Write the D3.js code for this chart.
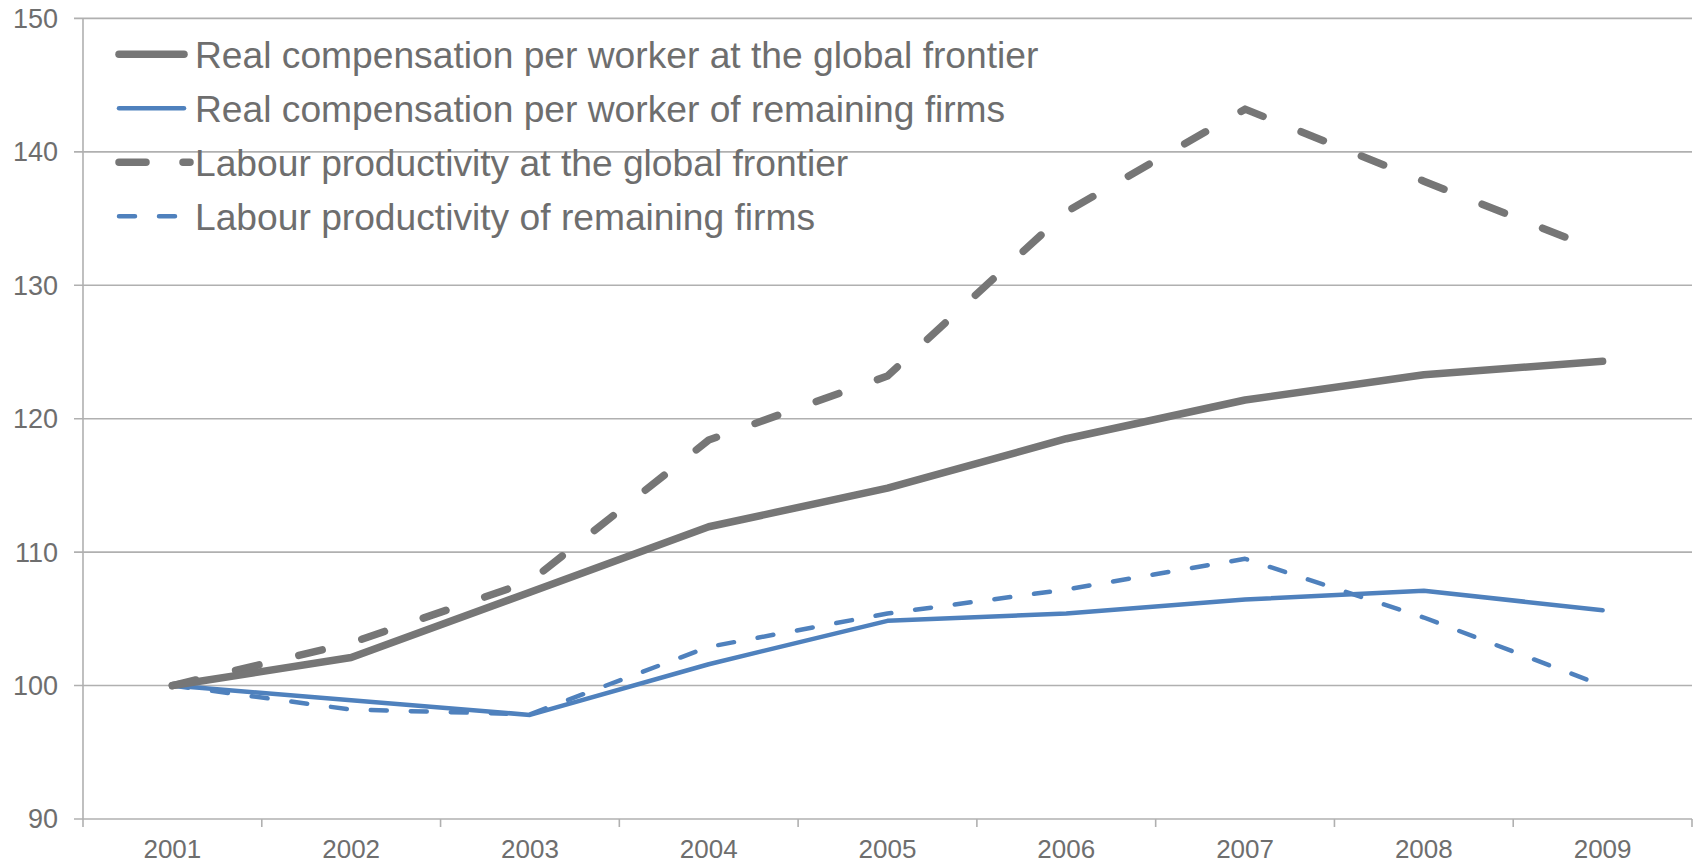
<!DOCTYPE html>
<html>
<head>
<meta charset="utf-8">
<script src="https://cdn.jsdelivr.net/npm/d3@7"></script>
<style>
  body { margin: 0; background: #fff; }
  text { font-family: "Liberation Sans", Arial, sans-serif; fill: #6e6e6e; }
</style>
</head>
<body>
<div id="container"></div>
<script>
const width = 1694,
      height = 864,
      margin = { top: 18.4, right: 2, bottom: 45, left: 83 };

// data (index, 2001 = 100)
const years = ["2001", "2002", "2003", "2004", "2005", "2006", "2007", "2008", "2009"];
const compFrontier = [100, 102.1, 107.0, 111.9, 114.8, 118.5, 121.4, 123.3, 124.3];
const compOthers   = [100, 98.9, 97.8, 101.6, 104.85, 105.4, 106.45, 107.1, 105.65];
const prodFrontier = [100, 103.2, 107.8, 118.4, 123.2, 135.5, 143.2, 137.8, 132.5];
const prodOthers   = [100, 98.2, 97.85, 102.9, 105.4, 107.2, 109.5, 105.1, 100.0];
const yTicks = [90, 100, 110, 120, 130, 140, 150];

const seriesNames = [
    "Real compensation per worker at the global frontier",
    "Real compensation per worker of remaining firms",
    "Labour productivity at the global frontier",
    "Labour productivity of remaining firms"
];

const grey = "#767676", blue = "#4f81bd";

const series = [
    { name: seriesNames[0], values: compFrontier, color: grey, w: 7.5, dash: null },
    { name: seriesNames[1], values: compOthers,   color: blue, w: 4.5, dash: null },
    { name: seriesNames[2], values: prodFrontier, color: grey, w: 7.5, dash: "24,41" },
    { name: seriesNames[3], values: prodOthers,   color: blue, w: 4.5, dash: "16,24" }
];

var svg = d3.select("#container").append("svg")
    .attr("width", width)
    .attr("height", height);

var x = d3.scaleBand()
    .domain(years)
    .range([margin.left, width - margin.right]);

var y = d3.scaleLinear()
    .domain([90, 150])
    .range([height - margin.bottom, margin.top]);

const cx = d => x(d) + x.bandwidth() / 2;

// gridlines (also acting as the y ticks)
svg.append("g")
    .selectAll("line")
    .data(yTicks)
    .enter().append("line")
    .attr("x1", margin.left - 9)
    .attr("x2", width - margin.right)
    .attr("y1", d => y(d))
    .attr("y2", d => y(d))
    .attr("stroke", "#b0b0b0")
    .attr("stroke-width", 1.6);

// y axis line
svg.append("line")
    .attr("x1", margin.left).attr("x2", margin.left)
    .attr("y1", y(150)).attr("y2", y(90))
    .attr("stroke", "#b0b0b0")
    .attr("stroke-width", 1.6);

// y labels
svg.append("g")
    .selectAll("text")
    .data(yTicks)
    .enter().append("text")
    .attr("x", margin.left - 25)
    .attr("y", d => y(d))
    .attr("dy", "0.35em")
    .attr("text-anchor", "end")
    .style("font-size", "27px")
    .text(d => d);

// x ticks at category boundaries
var bounds = years.map(d => x(d)).concat([x.range()[1]]);
svg.append("g")
    .selectAll("line")
    .data(bounds)
    .enter().append("line")
    .attr("x1", d => d).attr("x2", d => d)
    .attr("y1", y(90)).attr("y2", y(90) + 8)
    .attr("stroke", "#b0b0b0")
    .attr("stroke-width", 1.6);

// x labels
svg.append("g")
    .selectAll("text")
    .data(years)
    .enter().append("text")
    .attr("x", cx)
    .attr("y", y(90) + 39)
    .attr("text-anchor", "middle")
    .style("font-size", "26px")
    .text(d => d);

var line = d3.line()
    .x((d, i) => cx(years[i]))
    .y(d => y(d));

// draw blue ones first, grey on top (as in the original)
[3, 1, 2, 0].forEach(function(k) {
    var s = series[k];
    svg.append("path")
        .datum(s.values)
        .attr("d", line)
        .attr("fill", "none")
        .attr("stroke", s.color)
        .attr("stroke-width", s.w)
        .attr("stroke-linecap", "round")
        .attr("stroke-linejoin", "round")
        .attr("stroke-dasharray", s.dash);
});

// legend
var legend = svg.append("g")
    .selectAll("g")
    .data(series)
    .enter().append("g")
    .attr("transform", (d, i) => `translate(0, ${54.3 + i * 54})`);

legend.append("line")
    .attr("x1", 119)
    .attr("x2", d => d.dash ? 190 : 184)
    .attr("stroke", d => d.color)
    .attr("stroke-width", d => d.w)
    .attr("stroke-linecap", "round")
    .attr("stroke-dasharray", d => d.dash === "24,41" ? "27,37" : (d.dash ? "16,24" : null));

legend.append("text")
    .attr("x", 195)
    .attr("dy", "0.36em")
    .style("font-size", "37.2px")
    .text(d => d.name);
</script>
</body>
</html>
